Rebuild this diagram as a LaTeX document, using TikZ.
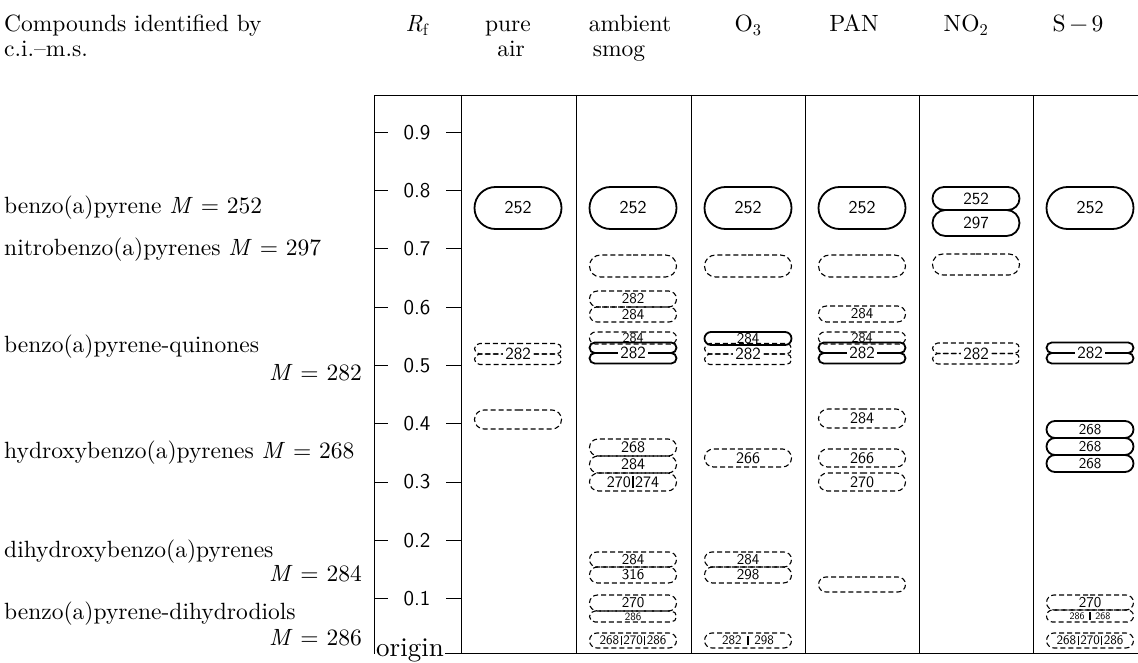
\documentclass[tikz,border=0pt]{standalone}
\usepackage{fontspec}
\setmainfont{lmroman10-regular.otf}[ItalicFont=lmroman10-italic.otf]
\setsansfont{lmsans10-regular.otf}
\usetikzlibrary{shapes.misc,positioning}

\newcommand\numsize[1]{\sffamily\fontsize{#1}{#1}\selectfont}
\newcommand\spotbar{\kern1.5pt\vrule width 1.2pt height 0.72em depth 0.04em\kern1.5pt}

\tikzset{
  spot/.style={rounded rectangle, draw, line width=1.8pt, minimum width=87pt, inner sep=0pt},
  spotdash/.style={spot, line width=1.1pt, dash pattern=on 5pt off 3pt},
  spotlab/.style={fill=white, inner xsep=2pt, inner ysep=0.5pt, font=\numsize{17}},
  rowlab/.style={anchor=base west, font=\fontsize{23.5}{28}\selectfont, inner sep=0pt},
  masslab/.style={anchor=base east, font=\fontsize{23.5}{28}\selectfont, inner sep=0pt},
  colhead/.style={anchor=base, font=\fontsize{23.5}{28}\selectfont, inner sep=0pt},
  rfnum/.style={font=\numsize{21}, inner sep=0pt},
  lane/.style={line width=0.9pt}
}

\begin{document}
\begin{tikzpicture}[x=1pt, y=-1pt]
  \useasboundingbox (0,0) rectangle (1138,663);

  % frame and lanes
  \draw[lane] (374,653) -- (374,95) -- (1138,95);
  \draw[lane] (374,653) -- (1138,653);
  \foreach \x in {461,576,691,805,919,1033}
    \draw[lane] (\x,95) -- (\x,653);
  \node[fill=white, inner sep=1pt, font=\fontsize{27}{30}\selectfont] (origin) at (410,650) {origin};

  % Rf scale
  \foreach \r in {1,...,9}{
    \pgfmathsetmacro\ty{657-58.3*\r}
    \node[rfnum] (rf\r) at (417,\ty) {0.\r};
    \draw[lane] (374,\ty) -- ++(14,0);
    \draw[lane] (461,\ty) -- ++(-15,0);
  }

  % headings
  \node[rowlab] (head1) at (4,32) {Compounds identified by};
  \node[rowlab] (head2) at (4,57) {c.i.--m.s.};
  \node[colhead] (hRf) at (417,32) {\textit{R}\textsubscript{f}};
  \node[colhead] (hPure) at (508,32) {pure};
  \node[colhead] (hAir) at (511,57) {air};
  \node[colhead] (hAmb) at (630,32) {ambient};
  \node[colhead] (hSmog) at (619,57) {smog};
  \node[colhead] (hOz) at (748,32) {O\textsubscript{3}};
  \node[colhead] (hPan) at (854,32) {PAN};
  \node[colhead] (hNo) at (966,32) {NO\textsubscript{2}};
  \node[colhead] (hS) at (1078,32) {S\,−\,9};

  % compound classes
  \node[rowlab] (bap) at (4,214) {benzo(a)pyrene \textit{M} = 252};
  \node[rowlab] (nbap) at (4,255) {nitrobenzo(a)pyrenes \textit{M} = 297};
  \node[rowlab] (qbap) at (4,352) {benzo(a)pyrene-quinones};
  \node[masslab] (qbapM) at (362,380) {\textit{M} = 282};
  \node[rowlab] (hbap) at (4,458) {hydroxybenzo(a)pyrenes \textit{M} = 268};
  \node[rowlab] (dhbap) at (4,557) {dihydroxybenzo(a)pyrenes};
  \node[masslab] (dhbapM) at (362,581) {\textit{M} = 284};
  \node[rowlab] (ddbap) at (4,619) {benzo(a)pyrene-dihydrodiols};
  \node[masslab] (ddbapM) at (362,645) {\textit{M} = 286};

  % solid spots
  \foreach \n/\x/\y/\h/\t/\f in {pa252/518/208/42/252/18, am252/633/208/42/252/18,
      oz252/748/208/42/252/18, pn252/862/208/42/252/18, s9252/1090/208/42/252/18,
      no252/976/198.5/23/252/17, no297/976/223/26/297/17, oz284/748/338.5/13/284/15,
      s9268a/1090/429.5/17/268/15, s9268b/1090/446.5/17/268/15, s9268c/1090/463.5/17/268/15}
    \node[spot, minimum height=\h pt, font=\numsize{\f}] (\n) at (\x,\y) {\t};

  % dashed spots
  \foreach \n/\x/\y/\h/\t/\f in {am70/633/266/22/{}/15, oz70/748/266/22/{}/15,
      pn70/862/266/22/{}/15, no70/976/264.5/21/{}/15,
      am282/633/299/16/282/15, am284a/633/314.5/15/284/15, am284b/633/338/12/284/14,
      pn284a/862/314/16/284/15, pn284b/862/338/12/284/14,
      pa40/518/419.5/19/{}/15, pn284c/862/418.5/19/284/16,
      am268/633/447.5/17/268/16, am284c/633/464.5/17/284/16,
      am270/633/482/18/{270\spotbar274}/16,
      oz266/748/458/18/266/16, pn266/862/458/18/266/16, pn270/862/482/18/270/16,
      am284d/633/559.5/15/284/15, am316/633/575/16/316/15,
      oz284b/748/559.5/15/284/15, oz298/748/575/16/298/15,
      pn15/862/584.5/15/{}/15,
      am270b/633/603/16/270/15, am286/633/616.5/11/286/11,
      s9270/1090/602.5/15/270/15, s9286/1090/616/12/{286\ \spotbar\ 268}/10,
      am268b/633/640.5/15/{268\spotbar270\spotbar286}/13,
      oz282b/748/640.5/15/{282\ \spotbar\ 298}/13,
      s9268d/1090/640.5/15/{268\spotbar270\spotbar286}/13}
    \node[spotdash, minimum height=\h pt, font=\numsize{\f}] (\n) at (\x,\y) {\t};

  % quinone spots (two lobes, label on the seam)
  \foreach \n/\x/\y in {amQ/633/353, pnQ/862/353, s9Q/1090/353}{
    \node[spot, minimum height=10.5pt] (\n-t) at (\x,\y-5.25) {};
    \node[spot, minimum height=10.5pt] (\n-b) at (\x,\y+5.25) {};
    \node[spotlab] (\n) at (\x,\y) {282};
  }
  \foreach \n/\x/\y in {paQ/518/354, ozQ/748/354, noQ/976/353.5}{
    \node[spotdash, minimum height=10.5pt] (\n-t) at (\x,\y-5.25) {};
    \node[spotdash, minimum height=10.5pt] (\n-b) at (\x,\y+5.25) {};
    \node[spotlab] (\n) at (\x,\y) {282};
  }
\end{tikzpicture}
\end{document}
